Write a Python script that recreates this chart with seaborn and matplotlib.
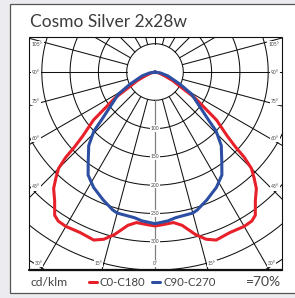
import numpy as np
import matplotlib
matplotlib.use("Agg")
import matplotlib.pyplot as plt
from matplotlib.patches import Rectangle
from matplotlib.lines import Line2D
import seaborn as sns

# ---------------- data (cd/klm, angle in degrees from nadir) ----------------
title = "Cosmo Silver 2x28w"
unit_label = "cd/klm"
efficiency_label = "=70%"
series_names = ["C0-C180", "C90-C270"]

red_angles = [0, 3, 7, 10, 14, 17, 20, 25, 30, 33, 35, 38, 41, 43, 45, 46.3, 47, 48.5,
              52, 54, 57, 59.5, 64, 68, 75, 90]
red_values = [272, 270, 268, 275, 296, 309, 316, 313, 315, 314, 309, 288, 273, 257, 241,
              218, 195, 170, 138, 110, 84, 55, 35, 19, 8, 0]

blue_angles = [0, 5, 8, 15, 17, 22, 28, 33, 37, 42, 46, 48, 54, 59, 64, 73, 80, 90]
blue_values = [268, 264, 260, 258, 255, 244, 231, 217, 196, 175, 150, 128, 92, 75, 49,
               24, 10, 0]

ring_values = [50, 100, 150, 200, 250, 300, 350, 400]
ring_labels = [100, 150, 200, 250, 300]
spoke_angles = list(range(0, 360, 15))
side_labels = ["105°", "90°", "75°", "60°", "45°"]
bottom_labels = ["30°", "15°", "0°", "15°", "30°"]

# ---------------- style ----------------
sns.set_style("white")
plt.rcParams["font.family"] = ["Lato", "DejaVu Sans"]

W, H = 295, 298
fig = plt.figure(figsize=(W / 100, H / 100), dpi=100)
fig.patch.set_facecolor("#ececf0")

def fx(px):
    return px / W

def fy(py):
    return (H - py) / H

# white card
card = Rectangle((fx(10), fy(293)), fx(300) - fx(10), fy(4) - fy(293),
                 transform=fig.transFigure, facecolor="white", edgecolor="#555555",
                 linewidth=0.9, zorder=-2)
fig.patches.append(card)

# polar axes placed so that its centre sits at the luminaire position
cx, cy = 155, 72
scale = 0.566  # px per cd
rmax = 420
R = rmax * scale
ax = fig.add_axes([fx(cx - R), fy(cy + R), 2 * R / W, 2 * R / H], projection="polar")
ax.set_theta_zero_location("S")
ax.set_ylim(0, rmax)
ax.patch.set_alpha(0)
ax.grid(False)
ax.set_xticks([])
ax.set_yticks([])
ax.spines["polar"].set_visible(False)

# clip rectangle (diagram frame)
x0, x1, y0, y1 = 29, 282, 37, 270
clip = Rectangle((fx(x0), fy(y1)), fx(x1) - fx(x0), fy(y0) - fy(y1),
                 transform=fig.transFigure, facecolor="none")

full = np.linspace(0, 2 * np.pi, 721)
for rv in ring_values:
    ln, = ax.plot(full, np.full_like(full, rv), color="#111111", lw=0.75, zorder=1)
    ln.set_clip_path(clip)
for a in spoke_angles:
    t = np.deg2rad(a)
    col = "#808080" if a == 0 else "#111111"
    ln, = ax.plot([t, t], [50, rmax], color=col, lw=0.75 if a else 0.9, zorder=1)
    ln.set_clip_path(clip)

# curves
for angs, vals, col in [(red_angles, red_values, "#e8202a"),
                        (blue_angles, blue_values, "#2d4fa3")]:
    a = np.array(angs, dtype=float)
    v = np.array(vals, dtype=float)
    th = np.deg2rad(np.concatenate([-a[::-1], a[1:]]))
    rr = np.concatenate([v[::-1], v[1:]])
    sns.lineplot(x=th, y=rr, ax=ax, sort=False, color=col, lw=2.2, zorder=3,
                 estimator=None)
ax.set_xlabel("")
ax.set_ylabel("")
ax.set_ylim(0, rmax)

# radial labels along the 0° spoke
for rv in ring_labels:
    ax.text(0, rv, str(rv), fontsize=3.6, color="#444444", ha="center", va="center",
            zorder=4, bbox=dict(boxstyle="square,pad=0.15", fc="white", ec="none"))

# frame
frame = Rectangle((fx(x0), fy(y1)), fx(x1) - fx(x0), fy(y0) - fy(y1),
                  transform=fig.transFigure, facecolor="none", edgecolor="#111111",
                  linewidth=0.8, zorder=5)
fig.patches.append(frame)
fig.add_artist(Line2D([fx(x0), fx(x1)], [fy(y1), fy(y1)], transform=fig.transFigure,
                      color="#111111", lw=1.6, zorder=5))

# angle labels on frame edges
side_y = [44, 72, 102, 138, 187]
lab_kw = dict(fontsize=3.6, color="#444444", va="center", zorder=6,
              bbox=dict(boxstyle="square,pad=0.2", fc="white", ec="none"))
for lab, py in zip(side_labels, side_y):
    fig.text(fx(32), fy(py), lab, ha="left", **lab_kw)
    fig.text(fx(279), fy(py), lab, ha="right", **lab_kw)
for lab, px in zip(bottom_labels, [38.5, 98.5, 155, 212, 271.5]):
    fig.text(fx(px), fy(263.5), lab, ha="center", **lab_kw)

# texts
fig.text(fx(30), fy(22), title, fontsize=12.5, color="#3c3c3c", ha="left", va="center")
fig.text(fx(30), fy(282), unit_label, fontsize=8.7, color="#444444", ha="left", va="center")
fig.text(fx(281), fy(282), efficiency_label, fontsize=10, color="#444444", ha="right",
         va="center")
handles = [Line2D([], [], color="#e8202a", lw=2.2), Line2D([], [], color="#2d4fa3", lw=2.2)]
fig.legend(handles, series_names, loc="center left", bbox_to_anchor=(fx(89), fy(282)),
           ncol=2, frameon=False, fontsize=8.2, handlelength=0.7, handletextpad=0.25,
           columnspacing=0.6, labelcolor="#444444", borderaxespad=0, borderpad=0)

fig.savefig("out.png", dpi=100, facecolor=fig.get_facecolor())
